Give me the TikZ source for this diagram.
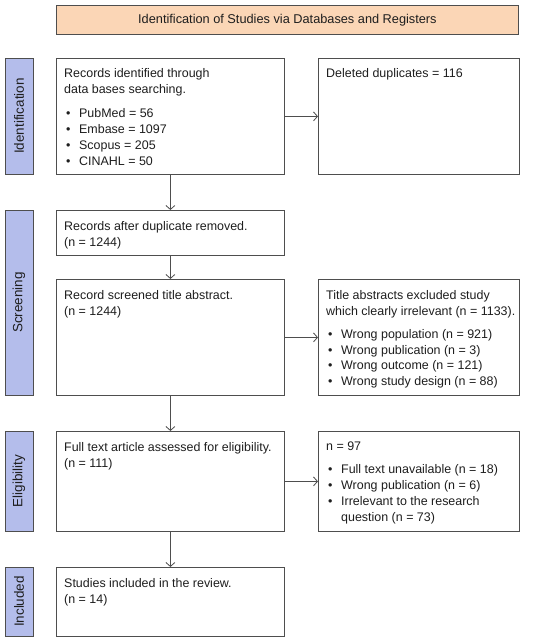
\documentclass[tikz,border=0pt]{standalone}
\usepackage{fontspec}
\setmainfont{Liberation Sans}
\usepackage{xcolor}
\usepackage{tikz}
\usetikzlibrary{arrows.meta, positioning}
\definecolor{framegray}{RGB}{78, 78, 78}
\definecolor{bannerpeach}{RGB}{251, 214, 182}
\definecolor{phaseblue}{RGB}{180, 189, 235}
\definecolor{inkgray}{RGB}{30, 30, 30}
\newcommand{\bul}[1]{\makebox[15bp][l]{\hspace{2bp}\textbullet}#1}

\begin{document}
\begin{tikzpicture}[x=1bp, y=-1bp,
    box/.style={rectangle, draw=framegray, line width=0.8bp, fill=white, inner sep=0pt, anchor=north west},
    phase/.style={rectangle, draw=framegray, line width=0.8bp, fill=phaseblue, rotate=90, minimum height=28bp,
                  inner sep=0pt, font=\fontsize{13.5}{16}\selectfont, text=inkgray},
    txt/.style={anchor=north west, inner sep=0pt, align=left, font=\fontsize{12.5}{16}\selectfont, text=inkgray},
    flow/.style={-{Straight Barb[length=4bp, width=9bp]}, draw=framegray, line width=0.8bp}
]
\useasboundingbox (0,0) rectangle (550,643);

% Banner
\node[box, fill=bannerpeach, minimum width=462bp, minimum height=29bp, anchor=north west,
      font=\fontsize{12.8}{16}\selectfont, text=inkgray] (banner) at (56,5)
      {Identification of Studies via Databases and Registers};

% Phase labels
\node[phase, minimum width=116bp] (pident) at (19,116) {Identification};
\node[phase, minimum width=185bp] (pscreen) at (19,302.5) {Screening};
\node[phase, minimum width=100bp] (pelig) at (19,481) {Eligibility};
\node[phase, minimum width=69bp] (pincl) at (19,601.5) {Included};

% Identification
\node[box, minimum width=228bp, minimum height=116bp] (ident) at (56,58) {};
\node[txt] (identtxt) at ([shift={(8,10.5)}]ident.north west)
    {Records identified through\\data bases searching.\\[8bp]
     \bul{PubMed = 56}\\\bul{Embase = 1097}\\\bul{Scopus = 205}\\\bul{CINAHL = 50}};
\node[box, minimum width=201bp, minimum height=116bp] (dupl) at (318,58) {};
\node[txt] (dupltxt) at ([shift={(8,10.5)}]dupl.north west) {Deleted duplicates = 116};

% Screening
\node[box, minimum width=228bp, minimum height=45bp] (after) at (56,210) {};
\node[txt] (aftertxt) at ([shift={(8,11.5)}]after.north west)
    {Records after duplicate removed.\\(n = 1244)};
\node[box, minimum width=228bp, minimum height=116bp] (screen) at (56,279) {};
\node[txt] (screentxt) at ([shift={(8,11)}]screen.north west)
    {Record screened title abstract.\\(n = 1244)};
\node[box, minimum width=201bp, minimum height=116bp] (excl) at (318,279) {};
\node[txt] (excltxt) at ([shift={(8,11)}]excl.north west)
    {Title abstracts excluded study\\which clearly irrelevant (n = 1133).\\[7bp]
     \bul{Wrong population (n = 921)}\\\bul{Wrong publication (n = 3)}\\
     \bul{Wrong outcome (n = 121)}\\\bul{Wrong study design (n = 88)}};

% Eligibility
\node[box, minimum width=228bp, minimum height=100bp] (full) at (56,431) {};
\node[txt] (fulltxt) at ([shift={(8,11)}]full.north west)
    {Full text article assessed for eligibility.\\(n = 111)};
\node[box, minimum width=201bp, minimum height=100bp] (fullexcl) at (318,431) {};
\node[txt] (fullexcltxt) at ([shift={(8,11)}]fullexcl.north west)
    {n = 97\\[7bp]
     \bul{Full text unavailable (n = 18)}\\\bul{Wrong publication (n = 6)}\\
     \bul{Irrelevant to the research}\\\hspace*{15bp}question (n = 73)};

% Included
\node[box, minimum width=228bp, minimum height=69bp] (incl) at (56,567) {};
\node[txt] (incltxt) at ([shift={(8,11)}]incl.north west)
    {Studies included in the review.\\(n = 14)};

% Arrows
\draw[flow] (ident.east) -- (dupl.west);
\draw[flow] (ident.south) -- (after.north);
\draw[flow] (after.south) -- (screen.north);
\draw[flow] (screen.east) -- (excl.west);
\draw[flow] (screen.south) -- (full.north);
\draw[flow] (full.east) -- (fullexcl.west);
\draw[flow] (full.south) -- (incl.north);

\end{tikzpicture}
\end{document}
